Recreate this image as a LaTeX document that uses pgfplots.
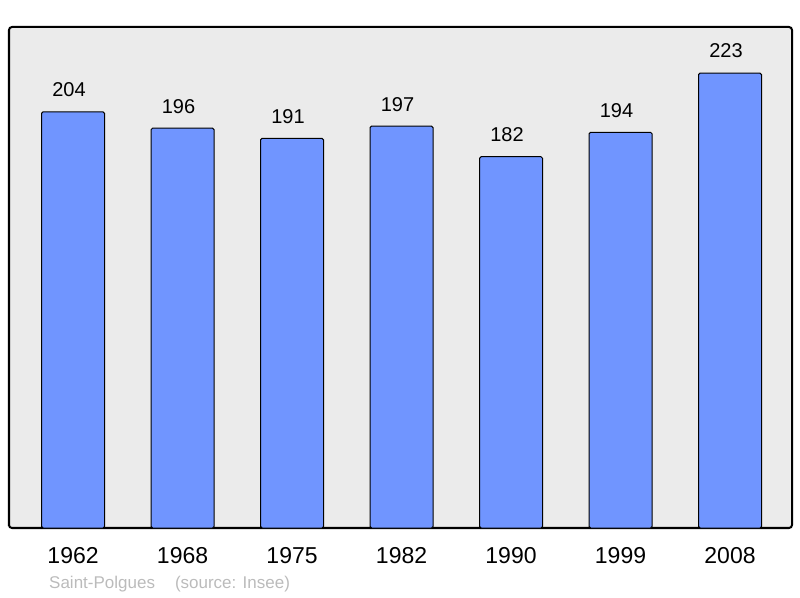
\documentclass[border=0pt]{standalone}
\usepackage{pgfplots}
\pgfplotsset{compat=1.18}
\usepackage{fontspec}
\setmainfont{Liberation Sans}
\definecolor{bgc}{HTML}{EBEBEB}
\definecolor{barc}{HTML}{7095FF}
\definecolor{footc}{HTML}{BBBBBB}
\begin{document}
\begin{tikzpicture}
\path[use as bounding box] (-9bp,-70bp) rectangle (791bp,528bp);
\begin{axis}[
  scale only axis,
  width=783bp, height=501bp,
  xmin=-0.585, xmax=6.566,
  ymin=0, ymax=245.6,
  axis background/.style={fill=bgc},
  axis line style={line width=2bp, rounded corners=3bp},
  xtick=data,
  xticklabels={1962,1968,1975,1982,1990,1999,2008},
  ytick=\empty,
  major tick length=0pt,
  xticklabel style={anchor=center, yshift=-28bp, font=\fontsize{23bp}{26bp}\selectfont},
  /pgf/number format/assume math mode=true,
  ybar, bar width=0.575,
  nodes near coords,
  nodes near coords style={anchor=center, xshift=-4bp, yshift=22bp, font=\fontsize{20bp}{23bp}\selectfont, /pgf/number format/fixed},
  clip=false,
]
\addplot[draw=black, line width=1bp, fill=barc, rounded corners=1.5bp] coordinates {
(0,204) (1,196) (2,191) (3,197) (4,182) (5,194) (6,223)
};
\end{axis}
\node[anchor=west, text=footc, inner sep=0pt, font=\fontsize{17bp}{20bp}\selectfont] at (40bp,-56bp) {Saint-Polgues\hspace{20bp}(source: Insee)};
\end{tikzpicture}
\end{document}
